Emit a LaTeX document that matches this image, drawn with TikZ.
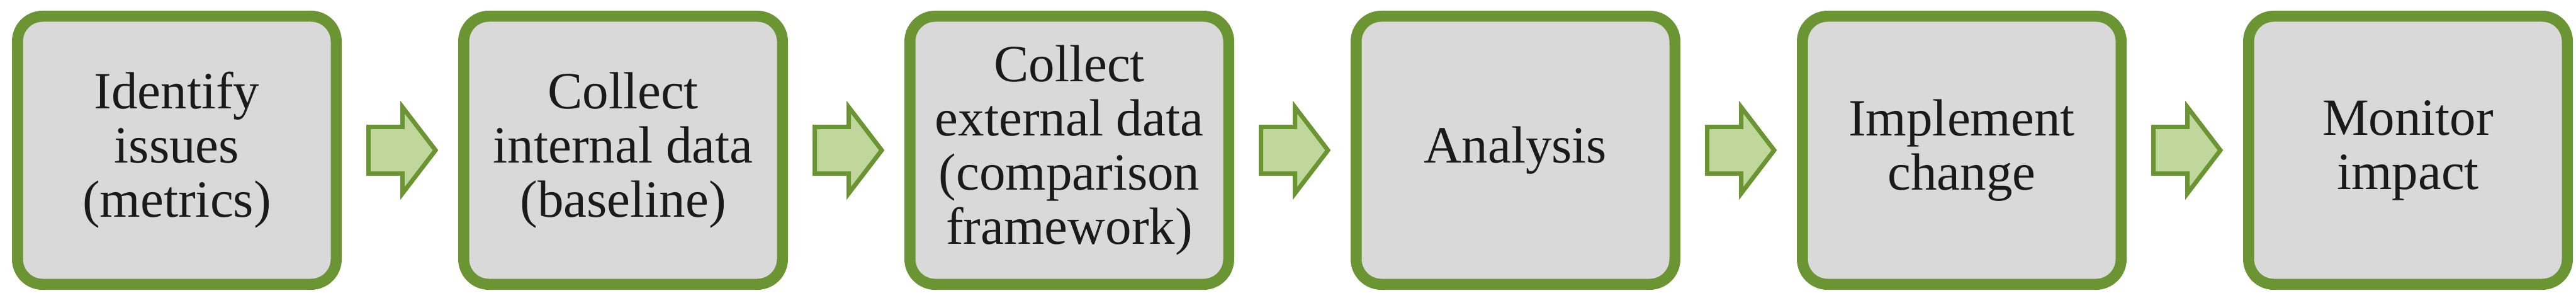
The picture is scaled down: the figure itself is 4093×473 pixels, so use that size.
\documentclass[tikz,border=0pt]{standalone}
\usepackage{fontspec}
\setmainfont{Liberation Serif}
\usetikzlibrary{calc}
\definecolor{boxgreen}{HTML}{6B9433}
\definecolor{boxgray}{HTML}{D9D9D9}
\definecolor{arrowfill}{HTML}{C0D79B}
\definecolor{txt}{HTML}{1A1A1A}
\begin{document}
\begin{tikzpicture}[x=1pt,y=-1pt,
  stepbox/.style={draw=boxgreen, fill=boxgray, line width=17.5pt, rounded corners=40pt,
    minimum width=506.5pt, minimum height=425.5pt, outer sep=0pt, inner sep=0pt,
    align=center, text=txt, font=\fontsize{83}{86}\selectfont},
  blockarrow/.style={draw=boxgreen, fill=arrowfill, line width=7pt, line join=miter, miter limit=10}]
\useasboundingbox (0,0) rectangle (4093,473);
\node[stepbox] (b1) at (281,238.5) {Identify\\issues\\(metrics)};
\node[stepbox] (b2) at (990,238.5) {Collect\\internal data\\(baseline)};
\node[stepbox] (b3) at (1699,238.5) {Collect\\external data\\(comparison\\framework)};
\node[stepbox] (b4) at (2408,238.5) {Analysis};
\node[stepbox] (b5) at (3117,238.5) {Implement\\change};
\node[stepbox] (b6) at (3826,238.5) {Monitor\\impact};
\foreach \a/\b in {b1/b2,b2/b3,b3/b4,b4/b5,b5/b6}{
  \draw[blockarrow] ($(\a.east)!0.5!(\b.west)$) ++(-50,-37) -- ++(54,0) -- ++(0,-31.5)
    -- ++(52.5,68.5) -- ++(-52.5,68.5) -- ++(0,-31.5) -- ++(-54,0) -- cycle;
}
\end{tikzpicture}
\end{document}
